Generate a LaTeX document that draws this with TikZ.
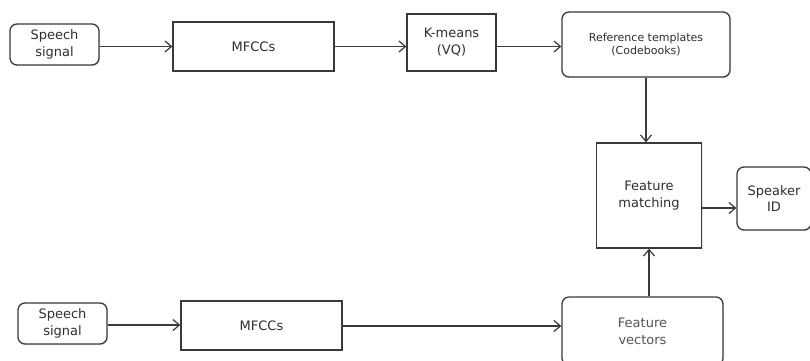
\documentclass[tikz,border=0pt]{standalone}
\usepackage{fontspec}
\setmainfont{DejaVu Sans}
\usetikzlibrary{arrows.meta,shadows}
\definecolor{ln}{HTML}{3A3A3A}
\definecolor{tx}{HTML}{2E2E2E}
\definecolor{tx2}{HTML}{555555}
\tikzset{
  box/.style={draw=ln, line width=1.3pt, fill=white, text=tx, align=center,
    inner sep=0pt, font=\fontsize{13}{16.8}\selectfont,
    drop shadow={opacity=0.18, shadow xshift=1pt, shadow yshift=-1.2pt}},
  rbox/.style={box, rounded corners=7pt},
  arr/.style={draw=ln, line width=1.2pt, -{Straight Barb[length=6.5pt,width=11pt,line width=1.2pt]}}
}
\begin{document}
\begin{tikzpicture}[x=1pt,y=-1pt]
\useasboundingbox (0,0) rectangle (810,360);
\node[rbox, minimum width=89pt, minimum height=41pt] (sp1) at (54.5,44.5) {Speech\\signal};
\node[box, minimum width=161pt, minimum height=49pt] (mf1) at (253.5,46.5) {MFCCs};
\node[box, minimum width=89pt, minimum height=57pt] (km) at (451.5,42.5) {K-means\\(VQ)};
\node[rbox, minimum width=168pt, minimum height=65pt, font=\fontsize{11}{13.5}\selectfont] (ref) at (646,44.5) {Reference templates\\(Codebooks)};
\node[box, minimum width=105pt, minimum height=105pt] (fm) at (649,195.5) {Feature\\matching};
\node[rbox, minimum width=74pt, minimum height=63pt] (spk) at (774,198.5) {Speaker\\ID};
\node[rbox, minimum width=161pt, minimum height=68pt, text=tx2] (fv) at (642.5,331) {Feature\\vectors};
\node[rbox, minimum width=89pt, minimum height=41pt] (sp2) at (62.5,323.5) {Speech\\signal};
\node[box, minimum width=161pt, minimum height=49pt] (mf2) at (261.5,325.5) {MFCCs};

\draw[arr] (sp1.east |- 0,46.5) -- (mf1.west |- 0,46.5);
\draw[arr] (mf1.east |- 0,46.5) -- (km.west |- 0,46.5);
\draw[arr] (km.east |- 0,46.5) -- (ref.west |- 0,46.5);
\draw[arr] (ref.south -| 646,0) -- (fm.north -| 646,0);
\draw[arr] (fm.east |- 0,208) -- (spk.west |- 0,208);
\draw[arr] (sp2.east |- 0,325) -- (mf2.west |- 0,325);
\draw[arr] (mf2.east |- 0,326) -- (fv.west |- 0,326);
\draw[arr] (fv.north -| 649,0) -- (fm.south -| 649,0);
\end{tikzpicture}
\end{document}
